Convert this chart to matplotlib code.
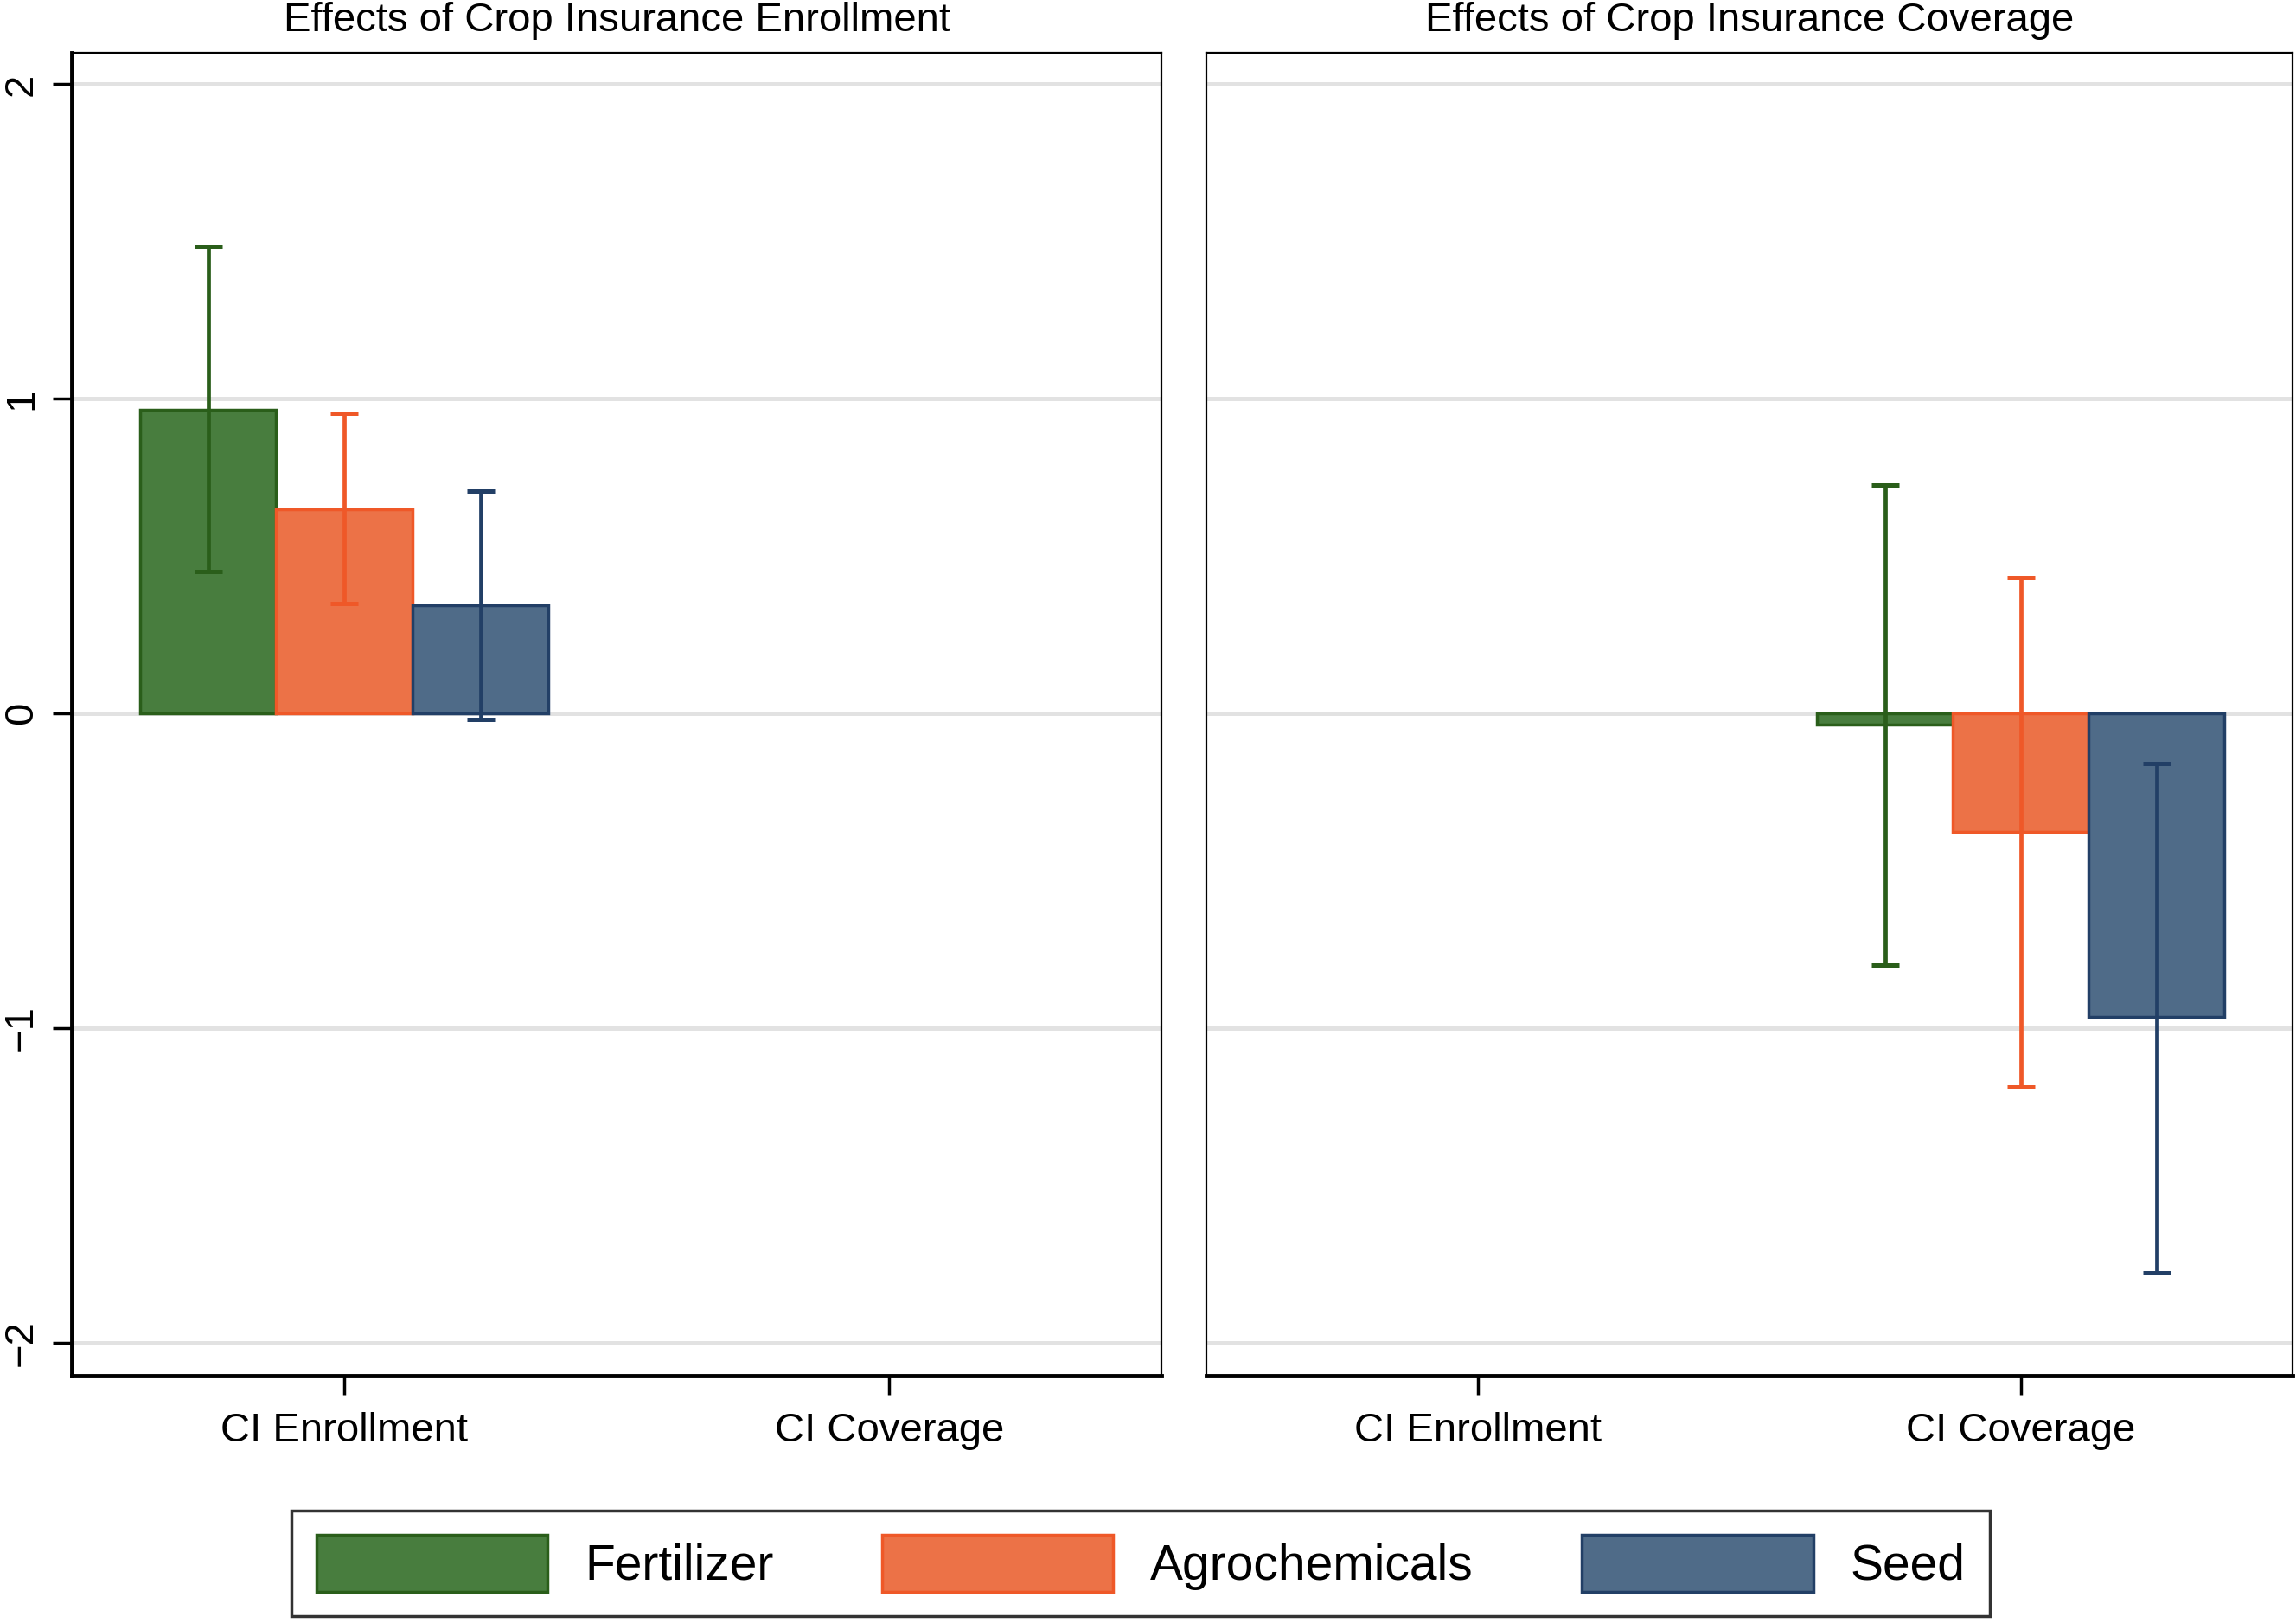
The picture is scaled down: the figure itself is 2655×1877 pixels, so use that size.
import numpy as np
import matplotlib
matplotlib.use("Agg")
import matplotlib.pyplot as plt
from matplotlib.patches import Patch

plt.rcParams["font.family"] = ["Liberation Sans", "DejaVu Sans"]

# Données
categories = ["CI Enrollment", "CI Coverage"]
series = ["Fertilizer", "Agrochemicals", "Seed"]
panel_titles = ["Effects of Crop Insurance Enrollment", "Effects of Crop Insurance Coverage"]

# panneau 1 : effets de l'adhésion (seulement CI Enrollment)
enroll_coef = [0.965, 0.650, 0.343]
enroll_lo = [0.451, 0.349, -0.019]
enroll_hi = [1.484, 0.953, 0.707]

# panneau 2 : effets de la couverture (seulement CI Coverage)
cover_coef = [-0.035, -0.375, -0.965]
cover_lo = [-0.800, -1.186, -1.777]
cover_hi = [0.726, 0.433, -0.158]

fills = ["#487d3e", "#ec7247", "#4f6b88"]
edges = ["#2a5e1a", "#ef5828", "#223f66"]

BAR_W = 0.25


def draw_panel(ax, cat_idx, coef, lo, hi, title, show_y):
    center = 0.5 + cat_idx
    for i in range(3):
        x = center + (i - 1) * BAR_W
        ax.bar(x, coef[i], width=BAR_W, color=fills[i], edgecolor=edges[i],
               linewidth=2.5, zorder=3)
        ax.errorbar(x, coef[i], yerr=[[coef[i] - lo[i]], [hi[i] - coef[i]]],
                    fmt="none", ecolor=edges[i], elinewidth=3.4, capsize=11.5,
                    capthick=3.6, zorder=4)
    ax.set_xlim(0, 2)
    ax.set_ylim(-2.105, 2.1)
    ax.set_xticks([0.5, 1.5])
    ax.set_xticklabels(categories)
    ax.set_yticks([-2, -1, 0, 1, 2])
    ax.yaxis.grid(True, color="#e2e2e2", linewidth=3.6, zorder=0)
    ax.set_axisbelow(True)
    ax.set_title(title, fontsize=34, pad=18)
    ax.tick_params(axis="x", length=16, width=2.5, labelsize=34, pad=14)
    for s in ["top", "right"]:
        ax.spines[s].set_linewidth(1.6)
    ax.spines["bottom"].set_linewidth(3.5)
    if show_y:
        ax.spines["left"].set_linewidth(3.5)
        ax.tick_params(axis="y", length=16, width=2.5, labelsize=34, pad=10,
                       labelrotation=90)
        for lab in ax.get_yticklabels():
            lab.set_verticalalignment("center")
    else:
        ax.spines["left"].set_linewidth(1.6)
        ax.tick_params(axis="y", length=0, labelleft=False)


fig = plt.figure(figsize=(26.55, 18.77), dpi=100)
ax1 = fig.add_axes([0.0313, 0.1524, 0.4746, 0.8151])
ax2 = fig.add_axes([0.5254, 0.1524, 0.4730, 0.8151])

draw_panel(ax1, 0, enroll_coef, enroll_lo, enroll_hi, panel_titles[0], True)
draw_panel(ax2, 1, cover_coef, cover_lo, cover_hi, panel_titles[1], False)

handles = [Patch(facecolor=fills[i], edgecolor=edges[i], linewidth=2.5, label=series[i])
           for i in range(3)]
leg = fig.legend(handles=handles, loc="center", bbox_to_anchor=(0.4968, 0.0368),
                 ncol=3, fontsize=41, frameon=True, fancybox=False,
                 handlelength=4.7, handleheight=1.4, handletextpad=0.75,
                 columnspacing=2.2, borderpad=0.5)
leg.get_frame().set_edgecolor("black")
leg.get_frame().set_linewidth(2.5)

fig.savefig("out.png", dpi=100)
print("Saved out.png")
